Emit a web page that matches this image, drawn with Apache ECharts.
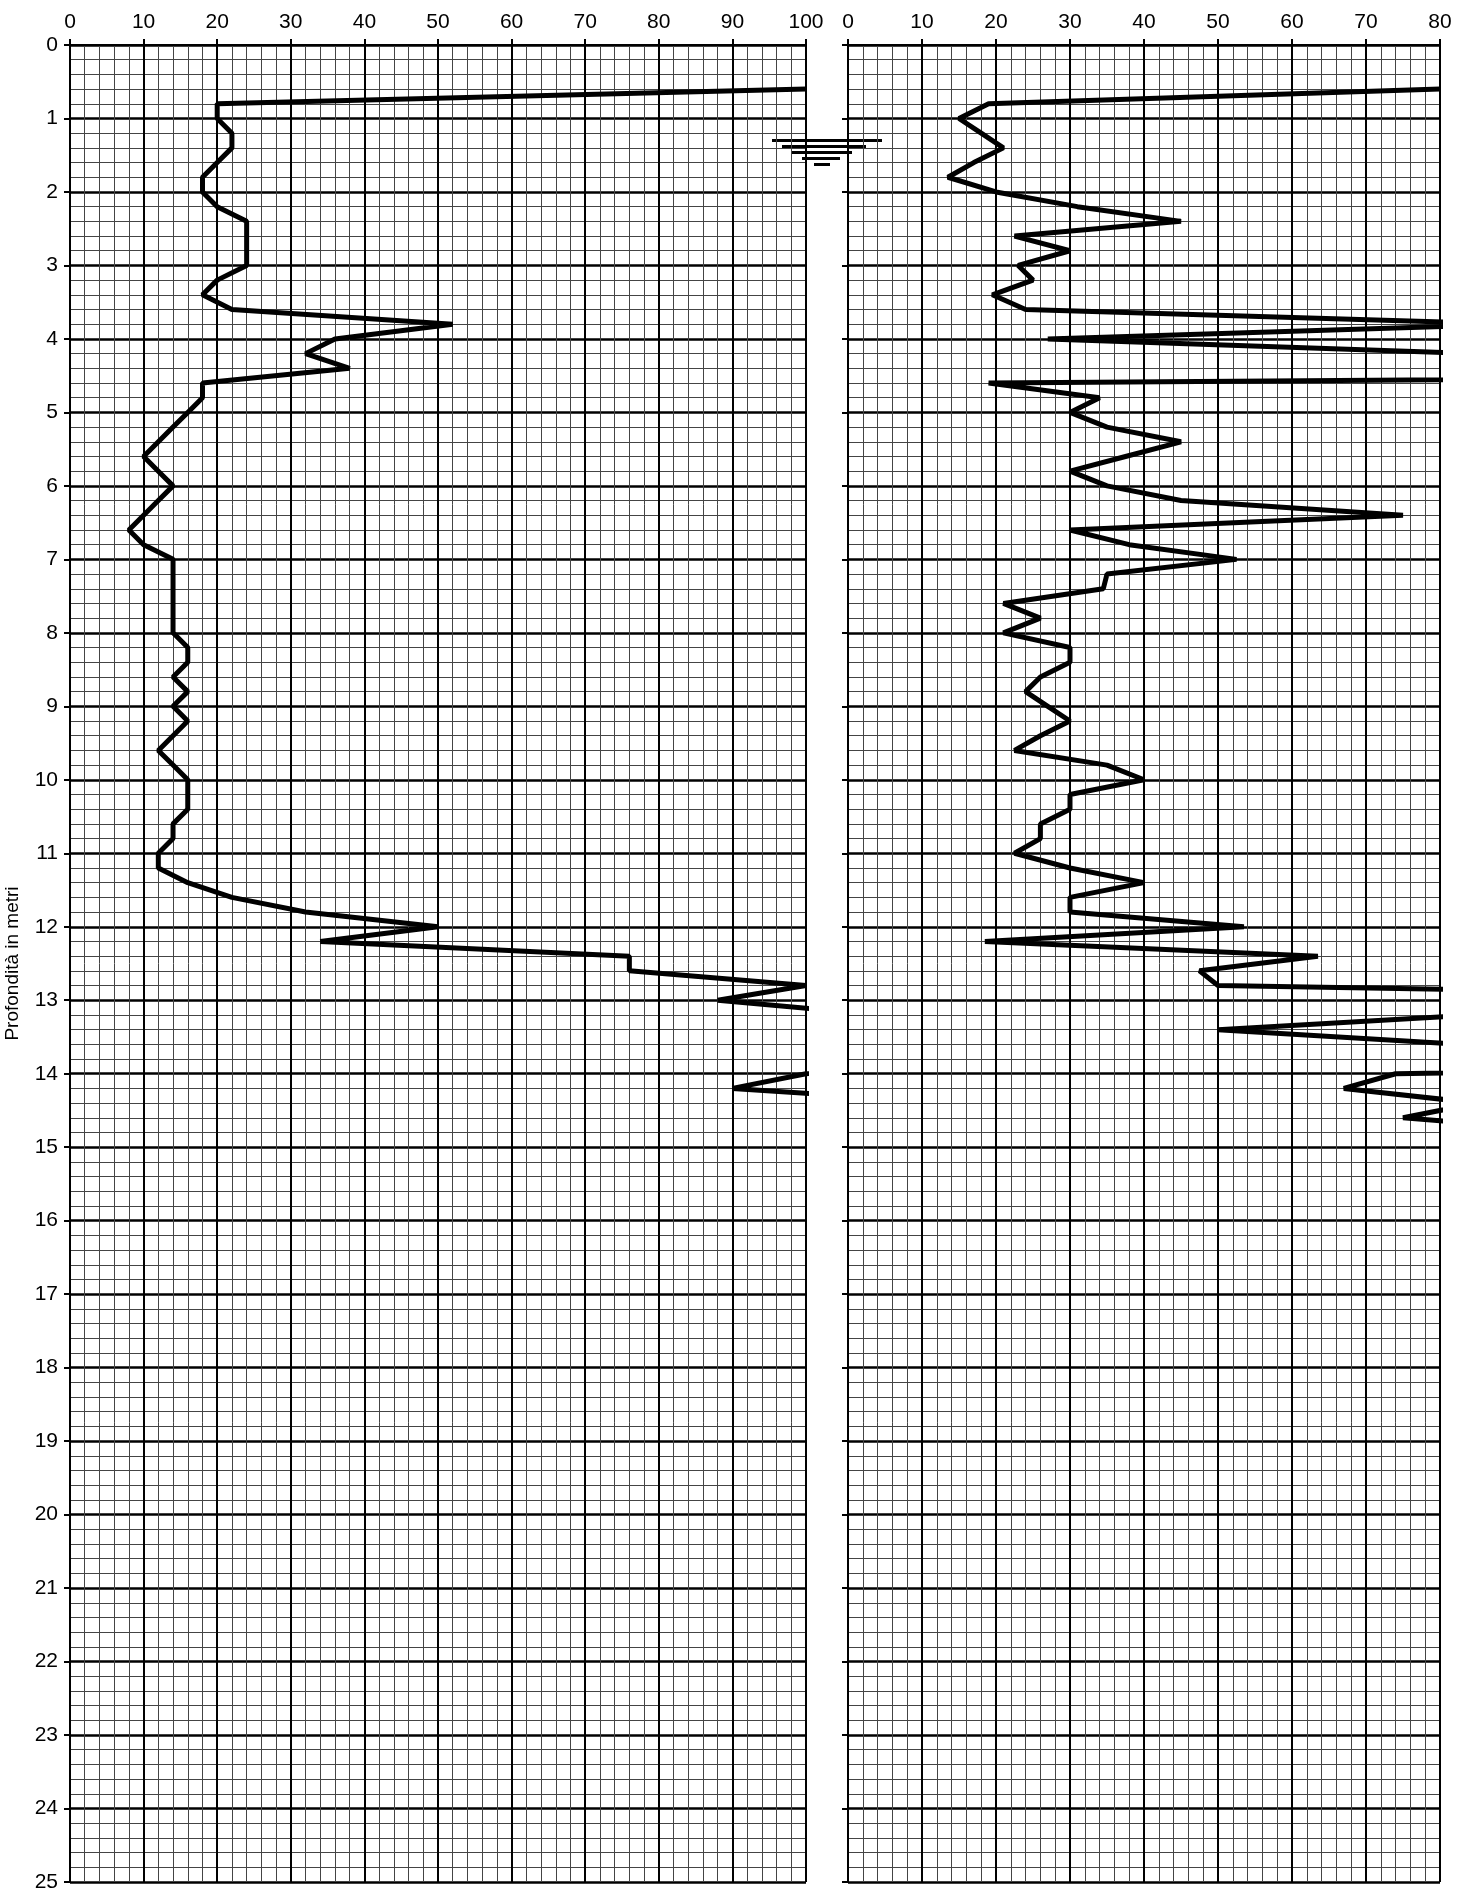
<!DOCTYPE html>
<html><head><meta charset="utf-8">
<script src="https://cdn.jsdelivr.net/npm/echarts@6/dist/echarts.min.js"></script>
<style>html,body{margin:0;padding:0;background:#fff}#c{width:1472px;height:1894px}</style>
</head><body><div id="c"></div>
<script>
const leftDepth = [0.6,0.8,1.0,1.2,1.4,1.6,1.8,2.0,2.2,2.4,2.6,2.8,3.0,3.2,3.4,3.6,3.8,4.0,4.2,4.4,4.6,4.8,5.0,5.2,5.4,5.6,5.8,6.0,6.2,6.4,6.6,6.8,7.0,7.2,7.4,7.6,7.8,8.0,8.2,8.4,8.6,8.8,9.0,9.2,9.4,9.6,9.8,10.0,10.2,10.4,10.6,10.8,11.0,11.2,11.4,11.6,11.8,12.0,12.2,12.4,12.6,12.8,13.0,13.2,13.4,13.6,13.8,14.0,14.2,14.4,14.6];
const leftValues = [100,20,20,22,22,20,18,18,20,24,24,24,24,20,18,22,52,36,32,38,18,18,16,14,12,10,12,14,12,10,8,10,14,14,14,14,14,14,16,16,14,16,14,16,14,12,14,16,16,16,14,14,12,12,16,22,32,50,34,76,76,100,88,110,120,150,150,100,90,120,150];
const rightDepth = [0.6,0.8,1.0,1.2,1.4,1.6,1.8,2.0,2.2,2.4,2.6,2.8,3.0,3.2,3.4,3.6,3.8,4.0,4.2,4.4,4.6,4.8,5.0,5.2,5.4,5.6,5.8,6.0,6.2,6.4,6.6,6.8,7.0,7.2,7.4,7.6,7.8,8.0,8.2,8.4,8.6,8.8,9.0,9.2,9.4,9.6,9.8,10.0,10.2,10.4,10.6,10.8,11.0,11.2,11.4,11.6,11.8,12.0,12.2,12.4,12.6,12.8,13.0,13.2,13.4,13.6,13.8,14.0,14.2,14.4,14.6,14.8];
const rightValues = [80,19,15,18,21,17,13.5,20,31,45,22.5,30,23,25,19.5,24,90,27,85,300,19,34,30,35,45,37.5,30,35,45,75,30,38,52.5,35,34.5,21,26,21,30,30,26,24,27,30,26,22.5,35,40,30,30,26,26,22.5,30,40,30,30,53.5,18.5,63.5,47.5,50,170,85,50,83,200,74,67,85,75,100];
const leftTicks = [0,10,20,30,40,50,60,70,80,90,100];
const rightTicks = [0,10,20,30,40,50,60,70,80];

const FONT = 'Liberation Sans, Arial, sans-serif';
const mk = a => ({
  type:'value', gridIndex:a.g, position:'top', min:0, max:a.max, interval:10,
  axisLine:{show:true,onZero:false,lineStyle:{color:'#000',width:2}},
  axisTick:{show:true,inside:false,length:6,lineStyle:{color:'#000',width:2}},
  axisLabel:{show:true,color:'#000',fontSize:21,fontFamily:FONT,margin:12},
  splitLine:{show:true,lineStyle:{color:'#000',width:2}},
  minorTick:{show:false,splitNumber:5},
  minorSplitLine:{show:true,lineStyle:{color:'#444',width:1}}
});
const mky = a => ({
  type:'value', gridIndex:a.g, inverse:true, min:0, max:25, interval:1,
  name:a.name||'', nameLocation:'middle', nameGap:48, nameRotate:90,
  nameTextStyle:{color:'#000',fontSize:19,fontFamily:FONT},
  axisLine:{show:true,onZero:false,lineStyle:{color:'#000',width:2}},
  axisTick:{show:true,length:6,lineStyle:{color:'#000',width:2}},
  axisLabel:{show:a.labels,color:'#000',fontSize:21,fontFamily:FONT,margin:12},
  splitLine:{show:true,lineStyle:{color:'#000',width:2.5}},
  minorTick:{show:false,splitNumber:5},
  minorSplitLine:{show:true,lineStyle:{color:'#444',width:1}}
});
const chart = echarts.init(document.getElementById('c'));
const wx = 806, wy = 45 + 1837*1.3/25;
chart.setOption({
  animation:false,
  grid:[{left:70,top:45,width:736,height:1837},{left:848,top:45,width:592,height:1837}],
  xAxis:[mk({g:0,max:100}),mk({g:1,max:80})],
  yAxis:[mky({g:0,labels:true,name:'Profondità in metri'}),mky({g:1,labels:false})],
  series:[
    {type:'line',xAxisIndex:0,yAxisIndex:0,showSymbol:false,clip:true,
     lineStyle:{color:'#000',width:5},data:leftDepth.map((d,i)=>[leftValues[i],d])},
    {type:'line',xAxisIndex:1,yAxisIndex:1,showSymbol:false,clip:true,
     lineStyle:{color:'#000',width:5},data:rightDepth.map((d,i)=>[rightValues[i],d])}
  ],
  graphic:[
    {type:'line',shape:{x1:wx-34,y1:wy,x2:wx+76,y2:wy},style:{stroke:'#000',lineWidth:3}},
    {type:'line',shape:{x1:wx-24,y1:wy+6,x2:wx+60,y2:wy+6},style:{stroke:'#000',lineWidth:3}},
    {type:'line',shape:{x1:wx-14,y1:wy+12,x2:wx+46,y2:wy+12},style:{stroke:'#000',lineWidth:3}},
    {type:'line',shape:{x1:wx-4,y1:wy+18,x2:wx+34,y2:wy+18},style:{stroke:'#000',lineWidth:3}},
    {type:'line',shape:{x1:wx+8,y1:wy+24,x2:wx+24,y2:wy+24},style:{stroke:'#000',lineWidth:3}}
  ]
});
</script></body></html>
